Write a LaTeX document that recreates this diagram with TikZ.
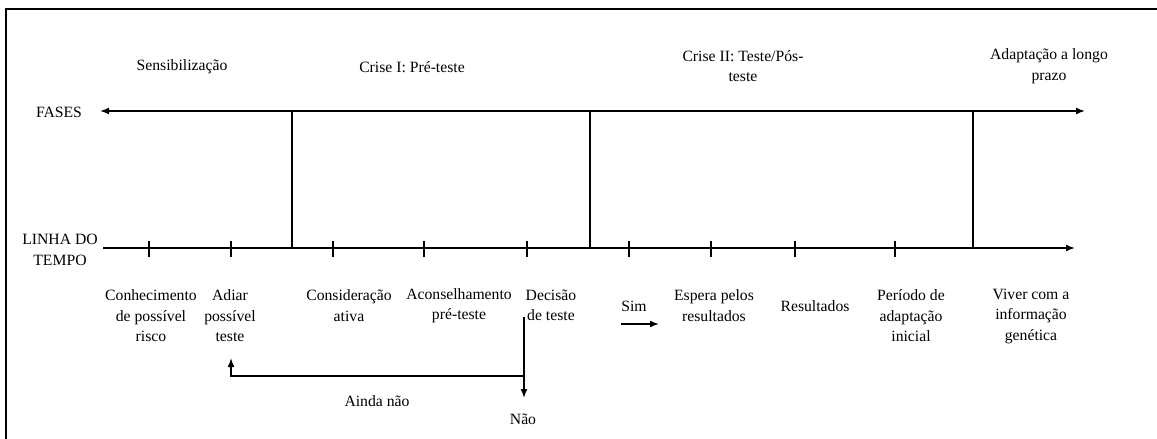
\documentclass[tikz,border=0pt]{standalone}
\usepackage{fontspec}
\setmainfont{Liberation Serif}
\usetikzlibrary{arrows.meta}
\begin{document}
\begin{tikzpicture}[x=1pt,y=-1pt,
  lbl/.style={inner sep=0pt, align=center, font=\fontsize{15.7}{20.5}\selectfont},
  axis/.style={line width=1.6pt},
  tipend/.style={-{Latex[length=9pt,width=7pt]}},
  tipboth/.style={{Latex[length=9pt,width=7pt]}-{Latex[length=9pt,width=7pt]}},
  tickmark/.style={line width=1.4pt},
  frameline/.style={line width=2.2pt}]
\useasboundingbox (0,0) rectangle (1157,439);
% frame
\coordinate (frBL) at (6,439);
\coordinate (frTL) at (6,9);
\coordinate (frTR) at (1157,9);
\draw[frameline] (frBL) -- (frTL) -- (frTR);

% axis labels
\node[lbl] (fases) at (59,112) {FASES};
\node[lbl] (linha) at (60,250) {LINHA DO\\TEMPO};

% phase labels
\node[lbl] (sens) at (182,67) {Sensibilização};
\node[lbl] (crise1) at (412,67) {Crise I: Pré-teste};
\node[lbl] (crise2) at (743,66) {Crise II: Teste/Pós-\\teste};
\node[lbl] (adapt) at (1049,66) {Adaptação a longo\\prazo};

% axes
\coordinate (fL) at (100,111);
\coordinate (fR) at (1085,111);
\coordinate (tL) at (103,248);
\coordinate (tR) at (1075,248);
\draw[axis,tipboth] (fL) -- (fR);
\draw[axis,tipend] (tL) -- (tR);

% dividers
\foreach \n/\x in {a/292,b/590,c/973}{
  \coordinate (d\n top) at (\x,111);
  \coordinate (d\n bot) at (\x,248);
  \draw[axis] (d\n top) -- (d\n bot);
}

% ticks
\foreach \n/\x in {1/149,2/231,3/333,4/424,5/527,6/629,7/711,8/795,9/895}{
  \coordinate (k\n top) at (\x,241);
  \coordinate (k\n bot) at (\x,257);
  \draw[tickmark] (k\n top) -- (k\n bot);
}

% event labels
\node[lbl] (conh) at (151,316) {Conhecimento\\de possível\\risco};
\node[lbl] (adiar) at (230,316) {Adiar\\possível\\teste};
\node[lbl] (cons) at (349,305.5) {Consideração\\ativa};
\node[lbl] (acon) at (459,305.5) {Aconselhamento\\pré-teste};
\node[lbl] (dec) at (551,305.5) {Decisão\\de teste};
\node[lbl] (sim) at (634,306) {Sim};
\node[lbl] (esp) at (714,305.5) {Espera pelos\\resultados};
\node[lbl] (res) at (815,306) {Resultados};
\node[lbl] (per) at (911,316) {Período de\\adaptação\\inicial};
\node[lbl] (viv) at (1031,316) {Viver com a\\informação\\genética};
\node[lbl] (ainda) at (377,401) {Ainda não};
\node[lbl] (nao) at (523,419) {Não};

% Sim arrow
\coordinate (simA) at (621,324);
\coordinate (simB) at (659,324);
\draw[axis,tipend] (simA) -- (simB);

% Nao branch
\coordinate (nTop) at (524,317);
\coordinate (nBot) at (524,398);
\coordinate (nMid) at (524,376);
\coordinate (aCorner) at (231,376);
\coordinate (aTip) at (231,358);
\draw[axis,tipend] (nTop) -- (nBot);
\draw[axis,tipend] (nMid) -- (aCorner) -- (aTip);
\end{tikzpicture}
\end{document}
